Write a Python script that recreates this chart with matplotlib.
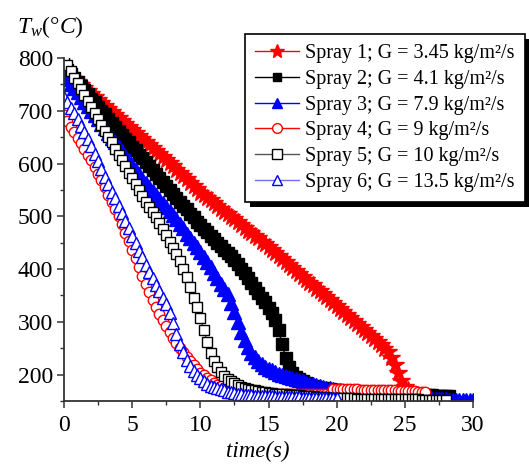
import numpy as np
import matplotlib
matplotlib.use("Agg")
import matplotlib.pyplot as plt
import matplotlib.patheffects as pe
from matplotlib.ticker import MultipleLocator

# serif fonts everywhere, italic math for the axis symbols
plt.rcParams['font.family'] = ['Liberation Serif', 'DejaVu Serif']
plt.rcParams['mathtext.fontset'] = 'custom'
plt.rcParams['mathtext.rm'] = 'Liberation Serif'
plt.rcParams['mathtext.it'] = 'Liberation Serif:italic'

# wall temperature (°C), sampled every 0.25 s
dt = 0.25

spray1 = [778, 772, 766, 761, 755, 749, 743, 737, 732, 726, 720,
          714, 709, 703, 697, 692, 686, 680, 674, 669, 663,
          657, 652, 646, 641, 635, 630, 624, 618, 613, 607,
          601, 595, 588, 582, 576, 570, 564, 557, 551, 545,
          540, 535, 530, 525, 520, 514, 509, 504, 499, 494,
          489, 484, 478, 473, 468, 463, 458, 452, 447, 442,
          436, 431, 425, 419, 414, 408, 402, 396, 391, 385,
          380, 374, 369, 363, 358, 352, 347, 341, 336, 330,
          324, 319, 313, 308, 302, 296, 291, 285,
          279, 273, 268, 262, 256, 249, 242, 232, 218, 203, 188, 176, 171]

spray2 = [785, 777, 769, 762, 754, 746, 739, 731, 723, 716, 708,
          700, 693, 685, 677, 670, 662, 655, 647, 640, 632,
          625, 617, 610, 602, 595, 587, 580, 572,
          565, 558, 550, 543, 535, 528, 520, 513, 505, 498, 490, 483,
          476, 470, 463, 457, 450, 444, 437, 431, 424, 417,
          409, 400, 392, 383, 373, 364, 355, 346, 337, 327,
          316, 303, 284, 258, 232, 214, 203, 196, 191, 187,
          184, 181, 179, 177, 175, 174, 173, 172, 171, 170,
          169, 169, 168, 168, 167, 167, 166, 166, 165, 165, 165, 164, 164,
          164, 164, 163, 163, 163, 162, 162, 162, 162, 162, 161, 161, 161,
          161, 161, 160, 160, 160, 160, 160]

spray3 = [768, 760, 751, 743, 735, 726, 717, 709, 700, 692, 684, 675, 667,
          658, 649, 641, 632, 623, 614, 606, 597, 588, 580, 571, 563,
          555, 548, 540, 533, 525, 518, 510, 503, 495, 486, 477, 467,
          459, 450, 442, 433, 423, 413, 403, 393, 383, 372, 362, 352,
          336, 318, 299, 280, 265, 252, 241, 233, 226, 220, 215, 211,
          208, 205, 202, 200, 198, 195, 193, 191, 189, 187, 185, 183,
          182, 180, 178, 177, 175, 174, 172, 171,
          170, 168, 167, 166, 165, 164, 163, 162, 161, 160, 160, 159,
          159, 158, 158, 157, 157, 156, 156, 155, 155, 155, 154, 154,
          154, 154, 153, 153, 153, 153, 153, 153, 152, 152, 152, 152,
          152, 152, 152, 152]

spray4 = [692, 681, 670, 660, 649, 638, 627, 617, 606, 594, 581, 568, 555,
          541, 527, 514, 500, 485, 469, 453, 437, 421, 404, 387, 371,
          357, 342, 328, 315, 303, 292, 281, 270, 260, 251, 242, 234,
          226, 218, 211, 204, 199, 194, 189, 185, 181, 178, 175, 172,
          171, 170, 169, 168, 167, 167, 166, 166, 166, 165, 165, 165,
          165, 164, 164, 164, 164, 164, 164, 164, 163, 163, 163, 163,
          163, 163, 163, 163, 163, 163,
          173, 173, 173, 172, 172, 172, 172, 172, 171, 171, 171, 171,
          171, 170, 170, 170, 170, 170, 170, 169, 169, 169, 169, 169,
          169, 168, 168, 168]

spray5 = [797, 786, 775, 763, 752, 741, 730, 718, 707, 696, 685, 673, 662,
          651, 640, 628, 617, 606, 595, 583, 572, 561, 550, 539, 528,
          518, 508, 498, 488, 476, 464, 452, 440, 429, 416, 401, 385,
          366, 346, 328, 308, 284, 262, 241, 225, 214, 205, 198, 192,
          188, 184, 180, 177, 175, 173, 171, 170, 169, 168, 167, 166,
          165, 164, 164, 163, 163, 162, 162, 161, 161, 160, 160, 159,
          159, 158, 158, 157, 157, 156, 156, 155,
          155, 155, 155, 155, 155, 154, 154, 154, 154, 154, 154, 154,
          154, 154, 153, 153, 153, 153, 153, 153, 153, 153, 153, 153,
          152, 152, 152, 152, 152, 152, 152, 152]

spray6 = [727, 717, 706, 696, 685, 672, 660, 647, 634, 619, 604, 589, 574,
          561, 547, 534, 520, 506, 492, 477, 463, 449, 435, 422, 408,
          395, 383, 370, 358, 346, 333, 316, 298, 277, 258, 242, 228,
          216, 207, 199, 193, 188, 183, 179, 176, 174, 172, 170, 168,
          167, 166, 164, 163, 162, 161, 161, 160, 160, 160, 159, 159,
          159, 158, 158, 158, 158, 157, 157, 157, 157, 156, 156, 156,
          156, 156, 155, 155, 155, 155, 155, 155]

labels = ['Spray 1; G = 3.45 kg/m²/s',
          'Spray 2; G = 4.1 kg/m²/s',
          'Spray 3; G = 7.9 kg/m²/s',
          'Spray 4; G = 9 kg/m²/s',
          'Spray 5; G = 10 kg/m²/s',
          'Spray 6; G = 13.5 kg/m²/s']

# line colour, marker, marker edge, marker face, size on curve, size in legend
styles = [
    ('#ff0000', '*', '#ff0000', '#ff0000', 13, 10),
    ('#000000', 's', '#000000', '#000000', 8.5, 6),
    ('#0000ff', '^', '#0000ff', '#0000ff', 10, 7.5),
    ('#ff0000', 'o', '#ff0000', 'white', 7.5, 7),
    ('#555555', 's', '#000000', 'white', 7, 6.5),
    ('#6f6fff', '^', '#0000ff', 'white', 8, 7.5),
]

fig = plt.figure(figsize=(5.29, 4.65), dpi=100)
ax = fig.add_axes([64 / 529, 64 / 465, 409 / 529, 343 / 465])

series = [spray1, spray2, spray3, spray4, spray5, spray6]
handles = []
for temps, lab, (lc, mk, mec, mfc, ms, ms_leg) in zip(series, labels, styles):
    t = np.arange(len(temps)) * dt
    ax.plot(t, temps, color=lc, lw=1.0, marker=mk, ms=ms, mec=mec, mfc=mfc,
            mew=1.0)
    # legend keys use smaller markers than the dense curves
    h, = ax.plot([], [], color=lc, lw=1.0, marker=mk, ms=ms_leg,
                 mec=mec, mfc=mfc, mew=1.0, label=lab)
    handles.append(h)

ax.set_xlim(0, 30)
ax.set_ylim(150, 800)
ax.xaxis.set_major_locator(MultipleLocator(5))
ax.xaxis.set_minor_locator(MultipleLocator(2.5))
ax.yaxis.set_minor_locator(MultipleLocator(50))
ax.set_yticks([200, 300, 400, 500, 600, 700, 800])

for side in ['top', 'right']:
    ax.spines[side].set_visible(False)
for side in ['left', 'bottom']:
    ax.spines[side].set_linewidth(1.3)
    ax.spines[side].set_color('#333333')

ax.tick_params(which='major', direction='out', length=5, width=1.1,
               labelsize=17, pad=3, color='#333333')
ax.tick_params(axis='x', which='major', pad=5)
ax.tick_params(which='minor', direction='out', length=3, width=1.0,
               color='#333333')

# axis titles
fig.text(17 / 529, 1 - 33 / 465, r'$\mathit{T_w(°C)}$', fontsize=17,
         ha='left', va='baseline')
fig.text(258 / 529, 1 - 451 / 465, 'time(s)', fontsize=16.5, style='italic',
         ha='center', va='center')

leg = ax.legend(handles=handles, loc='upper right',
                bbox_to_anchor=(525 / 529, 1 - 34 / 465),
                bbox_transform=fig.transFigure, borderaxespad=0,
                fontsize=14.5, frameon=True, fancybox=False, framealpha=1,
                edgecolor='black', labelspacing=0.33, handlelength=2.2,
                handletextpad=0.3, borderpad=0.5)
leg.get_frame().set_linewidth(1.2)
leg.get_frame().set_path_effects([
    pe.SimplePatchShadow(offset=(3.5, -3.5), shadow_rgbFace='black', alpha=1.0),
    pe.Normal()])

fig.savefig('out.png', dpi=100)
